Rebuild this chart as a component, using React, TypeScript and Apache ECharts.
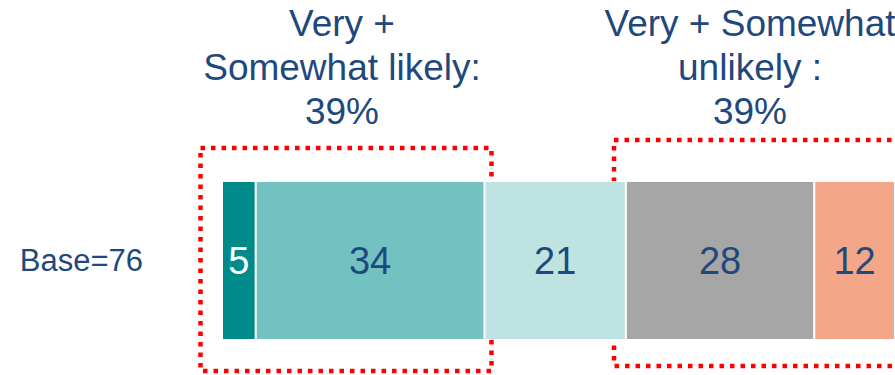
import React, { useEffect, useRef } from "react";
import * as echarts from "echarts";

const categories = ["Base=76"];
const seriesNames = ["Very likely", "Somewhat likely", "Neither", "Somewhat unlikely", "Very unlikely"];
const seriesValues = [5, 34, 21, 28, 12];
const seriesColors = ["#008B8B", "#72C2C1", "#BFE3E2", "#A6A6A6", "#F4A688"];
const labelColors = ["#FFFFFF", "#1F497D", "#1F497D", "#1F497D", "#1F497D"];
const leftNote = ["Very +", "Somewhat likely:", "39%"];
const rightNote = ["Very + Somewhat", "unlikely :", "39%"];

const FONT = "Arial, 'Liberation Sans', sans-serif";
const TEXT = "#1F497D";

export default function App() {
  const ref = useRef<HTMLDivElement>(null);
  useEffect(() => {
    if (!ref.current) return;
    const chart = echarts.init(ref.current, null, { renderer: "svg" });
    chart.setOption({
      animation: false,
      backgroundColor: "#FFFFFF",
      grid: { left: 222, right: 0, top: 181, height: 159 },
      xAxis: {
        type: "value",
        min: 0,
        max: 100,
        show: false,
      },
      yAxis: {
        type: "category",
        data: categories,
        axisLine: { show: false },
        axisTick: { show: false },
        axisLabel: { margin: 79, fontSize: 31, color: TEXT, fontFamily: FONT },
      },
      series: seriesNames.map((name, i) => ({
        name,
        type: "bar",
        stack: "total",
        barWidth: "100%",
        data: [seriesValues[i]],
        itemStyle: { color: seriesColors[i], borderColor: "#FFFFFF", borderWidth: 1 },
        label: {
          show: true,
          position: "inside",
          fontSize: 38,
          fontFamily: FONT,
          color: labelColors[i],
        },
      })),
      graphic: [
        {
          type: "text",
          x: 342,
          y: 1,
          style: {
            text: leftNote.join("\n"),
            fill: TEXT,
            font: `37px ${FONT}`,
            align: "center",
            verticalAlign: "top",
            lineHeight: 44,
          },
        },
        {
          type: "text",
          x: 750,
          y: 1,
          style: {
            text: rightNote.join("\n"),
            fill: TEXT,
            font: `37px ${FONT}`,
            align: "center",
            verticalAlign: "top",
            lineHeight: 44,
          },
        },
        {
          type: "rect",
          shape: { x: 200.5, y: 148, width: 291, height: 223 },
          style: { fill: "none", stroke: "#FF0000", lineWidth: 4.5, lineDash: [4.5, 6] },
        },
        {
          type: "rect",
          shape: { x: 614, y: 140, width: 320, height: 226 },
          style: { fill: "none", stroke: "#FF0000", lineWidth: 4.5, lineDash: [4.5, 6] },
        },
      ],
    });
    return () => chart.dispose();
  }, []);
  return (
    <div
      ref={ref}
      style={{ position: "fixed", left: 0, top: 0, width: 895, height: 375 }}
    />
  );
}
